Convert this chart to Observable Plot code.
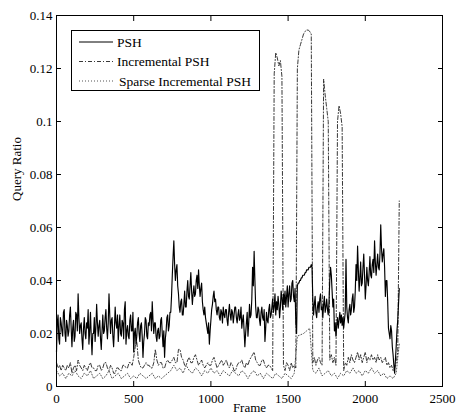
<!DOCTYPE html>
<html>
<head>
<meta charset="utf-8">
<script src="https://cdn.jsdelivr.net/npm/d3@7"></script>
<script src="https://cdn.jsdelivr.net/npm/@observablehq/plot@0.6"></script>
<style>
  html, body { margin: 0; padding: 0; background: white; }
  #wrap { position: relative; width: 457px; height: 417px; }
  #legend { position: absolute; left: 0; top: 0; }
</style>
</head>
<body>
<div id="wrap"></div>
<script>
// PSH query ratio, one value every 5 frames (frame 0 .. 2220)
const pshStep = 5;
const pshValues = [
  0.013,0.024,0.027,0.018,0.016,0.026,0.024,0.021,0.019,0.028,0.029,0.020,0.017,0.025,0.023,0.019,0.021,0.027,0.030,0.022,
  0.015,0.022,0.025,0.017,0.019,0.028,0.027,0.021,0.035,0.026,0.020,0.023,0.024,0.018,0.014,0.022,0.026,0.020,0.018,0.024,
  0.022,0.029,0.016,0.021,0.028,0.019,0.012,0.020,0.020,0.026,0.017,0.022,0.031,0.024,0.019,0.023,0.025,0.018,0.014,0.021,
  0.027,0.020,0.021,0.026,0.029,0.022,0.018,0.024,0.035,0.027,0.020,0.025,0.026,0.019,0.015,0.022,0.030,0.024,0.022,0.027,
  0.017,0.023,0.027,0.020,0.019,0.025,0.024,0.018,0.029,0.032,0.016,0.021,0.023,0.019,0.018,0.025,0.027,0.021,0.021,0.028,
  0.013,0.020,0.022,0.016,0.019,0.024,0.026,0.020,0.017,0.023,0.024,0.019,0.011,0.017,0.020,0.026,0.025,0.019,0.018,0.024,
  0.023,0.027,0.028,0.021,0.032,0.025,0.020,0.024,0.024,0.019,0.017,0.021,0.022,0.018,0.019,0.025,0.026,0.020,0.015,0.021,
  0.011,0.018,0.021,0.026,0.027,0.021,0.023,0.028,0.028,0.034,0.042,0.049,0.055,0.046,0.040,0.044,0.046,0.038,0.035,0.030,
  0.028,0.032,0.033,0.027,0.027,0.031,0.036,0.030,0.030,0.036,0.040,0.034,0.033,0.038,0.043,0.036,0.031,0.035,0.038,0.034,
  0.035,0.040,0.042,0.037,0.044,0.038,0.034,0.037,0.039,0.032,0.029,0.027,0.030,0.026,0.024,0.022,0.020,0.024,0.016,0.021,
  0.025,0.029,0.031,0.034,0.036,0.032,0.033,0.029,0.027,0.030,0.030,0.026,0.025,0.029,0.028,0.024,0.030,0.027,0.026,0.029,
  0.029,0.025,0.023,0.028,0.031,0.027,0.025,0.029,0.028,0.024,0.027,0.030,0.030,0.026,0.024,0.027,0.029,0.025,0.026,0.030,
  0.022,0.025,0.027,0.021,0.015,0.020,0.024,0.028,0.019,0.024,0.031,0.026,0.027,0.033,0.045,0.038,0.051,0.040,0.030,0.026,
  0.026,0.030,0.029,0.025,0.023,0.028,0.030,0.026,0.025,0.029,0.017,0.022,0.028,0.025,0.024,0.029,0.031,0.026,0.027,0.030,
  0.033,0.028,0.030,0.035,0.027,0.032,0.029,0.034,0.031,0.026,0.030,0.036,0.033,0.029,0.035,0.031,0.036,0.030,0.034,0.038,
  0.030,0.035,0.038,0.032,0.033,0.039,0.040,0.034,0.032,0.037,0.024,0.020,0.038,0.039,0.039,0.040,0.040,0.041,0.041,0.042,
  0.042,0.042,0.043,0.043,0.044,0.044,0.044,0.045,0.045,0.045,0.046,0.045,0.033,0.027,0.031,0.034,0.028,0.026,0.030,0.032,
  0.028,0.033,0.035,0.029,0.030,0.026,0.031,0.034,0.028,0.030,0.033,0.029,0.027,0.032,0.040,0.045,0.042,0.036,0.030,0.033,
  0.021,0.024,0.019,0.023,0.026,0.022,0.025,0.028,0.024,0.027,0.023,0.026,0.022,0.025,0.028,0.048,0.030,0.026,0.024,0.029,
  0.031,0.027,0.029,0.033,0.035,0.028,0.030,0.036,0.046,0.040,0.053,0.044,0.036,0.041,0.047,0.038,0.039,0.045,0.050,0.042,
  0.033,0.038,0.045,0.040,0.038,0.043,0.049,0.042,0.041,0.046,0.048,0.043,0.055,0.047,0.042,0.046,0.050,0.045,0.044,0.050,
  0.061,0.052,0.047,0.050,0.052,0.045,0.034,0.040,0.040,0.032,0.022,0.020,0.018,0.023,0.021,0.015,0.012,0.008,0.005,0.010,
  0.015,0.021,0.025,0.031,0.037
];

// Incremental PSH, one value every 10 frames (frame 0 .. 2220)
const incStep = 10;
const incValues = [
  0.009,0.007,0.008,0.006,0.008,0.007,0.006,0.008,0.007,0.009,0.005,0.007,0.008,0.006,0.010,0.008,0.007,0.006,0.008,0.007,
  0.006,0.008,0.009,0.007,0.007,0.006,0.006,0.008,0.008,0.006,0.007,0.009,0.009,0.007,0.006,0.008,0.007,0.005,0.005,0.007,
  0.007,0.006,0.006,0.008,0.008,0.007,0.007,0.009,0.009,0.008,0.011,0.015,0.017,0.010,0.008,0.007,0.007,0.008,0.009,0.008,
  0.008,0.007,0.007,0.009,0.014,0.010,0.008,0.009,0.009,0.007,0.007,0.009,0.010,0.009,0.009,0.010,0.011,0.009,0.009,0.014,
  0.014,0.011,0.010,0.008,0.008,0.010,0.011,0.009,0.009,0.011,0.012,0.010,0.008,0.009,0.010,0.008,0.007,0.008,0.009,0.008,
  0.008,0.010,0.011,0.009,0.007,0.008,0.009,0.010,0.008,0.009,0.010,0.008,0.007,0.009,0.008,0.006,0.006,0.008,0.009,0.009,
  0.010,0.008,0.007,0.009,0.008,0.010,0.011,0.012,0.013,0.010,0.009,0.008,0.008,0.010,0.010,0.008,0.007,0.008,0.008,0.007,
  0.006,0.118,0.126,0.124,0.121,0.123,0.117,0.008,0.006,0.009,0.008,0.006,0.009,0.007,0.008,0.007,0.120,0.127,0.129,0.131,
  0.133,0.134,0.1345,0.1345,0.134,0.133,0.009,0.011,0.008,0.010,0.011,0.009,0.008,0.116,0.110,0.105,0.100,0.010,0.012,0.009,
  0.011,0.008,0.100,0.106,0.103,0.098,0.006,0.009,0.008,0.011,0.009,0.012,0.010,0.009,0.011,0.013,0.010,0.012,0.009,0.011,
  0.013,0.009,0.011,0.010,0.012,0.010,0.011,0.009,0.012,0.010,0.011,0.009,0.010,0.011,0.008,0.009,0.007,0.008,0.006,0.007,
  0.009,0.013,0.070
];

// Sparse Incremental PSH, one value every 20 frames (frame 0 .. 2220)
const sparseStep = 20;
const sparseValues = [
  0.006,0.004,0.005,0.003,0.005,0.004,0.006,0.004,0.003,0.005,
  0.004,0.006,0.003,0.004,0.005,0.003,0.004,0.006,0.003,0.004,
  0.005,0.003,0.004,0.005,0.003,0.004,0.003,0.005,0.004,0.003,
  0.004,0.005,0.003,0.004,0.003,0.004,0.005,0.006,0.008,0.006,
  0.007,0.005,0.008,0.006,0.005,0.007,0.006,0.004,0.006,0.005,
  0.007,0.005,0.006,0.004,0.006,0.005,0.004,0.006,0.005,0.004,
  0.006,0.005,0.003,0.005,0.006,0.004,0.005,0.003,0.005,0.004,
  0.003,0.005,0.004,0.003,0.005,0.004,0.003,0.005,0.019,0.0195,
  0.020,0.021,0.022,0.006,0.005,0.007,0.004,0.005,0.006,0.004,
  0.005,0.003,0.005,0.004,0.006,0.005,0.007,0.005,0.006,0.004,
  0.006,0.005,0.007,0.005,0.006,0.004,0.005,0.003,0.004,0.003,
  0.005,0.016
];

const xTicks = [0, 500, 1000, 1500, 2000, 2500];
const yTicks = [0, 0.02, 0.04, 0.06, 0.08, 0.1, 0.12, 0.14];
const seriesNames = ["PSH", "Incremental PSH", "Sparse Incremental PSH"];
const xLabel = "Frame";
const yLabel = "Query Ratio";

const toRows = (vals, step) => vals.map((v, i) => ({frame: i * step, value: v}));
const psh = toRows(pshValues, pshStep);
const inc = toRows(incValues, incStep);
const sparse = toRows(sparseValues, sparseStep);

const serif = "'Liberation Serif', 'Times New Roman', serif";
const styles = [
  {stroke: "#000", strokeWidth: 1.15, dash: null},
  {stroke: "#222", strokeWidth: 0.9, dash: "4,2,1,2"},
  {stroke: "#555", strokeWidth: 1, dash: "1,2"}
];

const chart = Plot.plot({
  width: 457,
  height: 417,
  marginLeft: 56,
  marginRight: 15,
  marginTop: 15,
  marginBottom: 31,
  style: {fontFamily: serif, fontSize: "13px", background: "white", color: "black"},
  x: {domain: [0, 2500]},
  y: {domain: [0, 0.14]},
  marks: [
    Plot.lineY(sparse, {x: "frame", y: "value", stroke: styles[2].stroke, strokeWidth: styles[2].strokeWidth, strokeDasharray: styles[2].dash}),
    Plot.lineY(inc, {x: "frame", y: "value", stroke: styles[1].stroke, strokeWidth: styles[1].strokeWidth, strokeDasharray: styles[1].dash}),
    Plot.lineY(psh, {x: "frame", y: "value", stroke: styles[0].stroke, strokeWidth: styles[0].strokeWidth}),
    Plot.frame({stroke: "black"}),
    Plot.axisX(xTicks, {anchor: "bottom", tickSize: -5, tickPadding: 12, label: null, tickFormat: d => String(d), fontSize: 13}),
    Plot.axisX(xTicks, {anchor: "top", tickSize: -5, label: null, tickFormat: () => ""}),
    Plot.axisY(yTicks, {anchor: "left", tickSize: -5, tickPadding: 9, label: null, tickFormat: d => String(d), fontSize: 13}),
    Plot.axisY(yTicks, {anchor: "right", tickSize: -5, label: null, tickFormat: () => ""}),
    Plot.text([xLabel], {frameAnchor: "bottom", dy: 25, fontSize: 13}),
    Plot.text([yLabel], {frameAnchor: "left", dx: -40, rotate: -90, fontSize: 13})
  ]
});

const wrap = document.getElementById("wrap");
wrap.appendChild(chart);

// Legend box drawn over the plot (upper left)
const ns = "http://www.w3.org/2000/svg";
const lg = document.createElementNS(ns, "svg");
lg.setAttribute("id", "legend");
lg.setAttribute("width", 457);
lg.setAttribute("height", 417);
lg.style.fontFamily = serif;
const box = document.createElementNS(ns, "rect");
box.setAttribute("x", 71.5); box.setAttribute("y", 30.5);
box.setAttribute("width", 188); box.setAttribute("height", 60);
box.setAttribute("fill", "white"); box.setAttribute("stroke", "black");
lg.appendChild(box);
seriesNames.forEach((name, i) => {
  const cy = 42 + i * 19.5;
  const ln = document.createElementNS(ns, "line");
  ln.setAttribute("x1", 79); ln.setAttribute("x2", 113);
  ln.setAttribute("y1", cy); ln.setAttribute("y2", cy);
  ln.setAttribute("stroke", styles[i].stroke);
  ln.setAttribute("stroke-width", Math.min(styles[i].strokeWidth, 1));
  if (styles[i].dash) ln.setAttribute("stroke-dasharray", styles[i].dash);
  lg.appendChild(ln);
  const t = document.createElementNS(ns, "text");
  t.setAttribute("x", i === 2 ? 119 : 117);
  t.setAttribute("y", cy);
  t.setAttribute("dy", "0.35em");
  t.setAttribute("font-size", 13.5);
  t.textContent = name;
  lg.appendChild(t);
});
wrap.appendChild(lg);
</script>
</body>
</html>
